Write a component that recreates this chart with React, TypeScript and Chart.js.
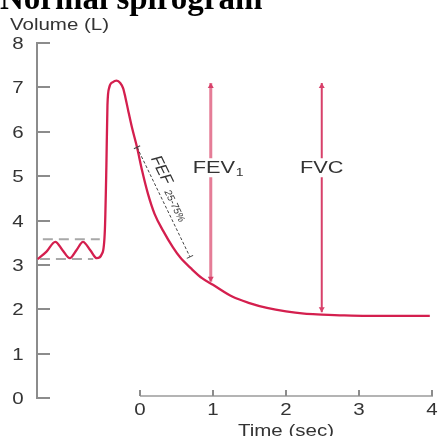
import React, { useEffect, useRef } from "react";
import { Chart, registerables } from "chart.js";

Chart.register(...registerables);

// ---- data ----
const curveTime = [
  -1.4, -1.28, -1.16, -1.06, -0.96, -0.87, -0.78, -0.68, -0.59, -0.52, -0.48, -0.46, -0.445, -0.42,
  -0.37, -0.32, -0.27, -0.23, -0.2, -0.16, -0.11, -0.04, 0.03, 0.11, 0.2, 0.32, 0.45, 0.55, 0.7,
  0.85, 1.0, 1.27, 1.5, 1.74, 2.0, 2.25, 2.49, 2.8, 3.11, 3.5, 3.97,
];
const curveVolume = [
  3.13, 3.3, 3.52, 3.33, 3.15, 3.33, 3.52, 3.33, 3.15, 3.25, 3.8, 5.2, 6.6, 7.0,
  7.12, 7.15, 7.1, 6.98, 6.78, 6.47, 6.1, 5.65, 5.12, 4.6, 4.15, 3.76, 3.4, 3.17, 2.92,
  2.7, 2.55, 2.28, 2.14, 2.03, 1.95, 1.9, 1.88, 1.86, 1.85, 1.85, 1.85,
];
const tidalUpperTime = [-1.33, -0.55];
const tidalUpperVolume = [3.58, 3.58];
const tidalLowerTime = [-1.37, -0.64];
const tidalLowerVolume = [3.13, 3.13];
const fefTime = [-0.04, 0.685];
const fefVolume = [5.65, 3.18];
const fev1Time = [0.97, 0.97];
const fev1Volume = [7.1, 2.62];
const fvcTime = [2.49, 2.49];
const fvcVolume = [7.1, 1.93];
const labelVolume = 5.2;
const yTickValues = [0, 1, 2, 3, 4, 5, 6, 7, 8];
const xTickValues = [0, 1, 2, 3, 4];
const titleText = "Normal spirogram";
const yTitle = "Volume (L)";
const xTitle = "Time (sec)";

const pts = (xs: number[], ys: number[]) => xs.map((x, i) => ({ x, y: ys[i] }));

const SX = 1.28;
const SANS = '"Liberation Sans", Arial, sans-serif';

function sText(ctx: CanvasRenderingContext2D, text: string, x: number, y: number, size: number, align: CanvasTextAlign, color = "#333", sx = SX) {
  ctx.save();
  ctx.translate(x, y);
  ctx.scale(sx, 1);
  ctx.font = `${size}px ${SANS}`;
  ctx.fillStyle = color;
  ctx.textAlign = align;
  ctx.textBaseline = "alphabetic";
  ctx.fillText(text, 0, 0);
  ctx.restore();
}

function rect(ctx: CanvasRenderingContext2D, x: number, y: number, w: number, h: number, color: string) {
  ctx.save();
  ctx.globalAlpha = 1;
  ctx.fillStyle = color;
  ctx.fillRect(x, y, w, h);
  ctx.restore();
}

const annotPlugin = {
  id: "annot",
  beforeDatasetsDraw(chart: any) {
    const ctx: CanvasRenderingContext2D = chart.ctx;
    const xs = chart.scales.x;
    const ys = chart.scales.y;
    const axX = Math.round(xs.left);
    const top = Math.round(ys.getPixelForValue(8));
    const bottom = Math.round(ys.getPixelForValue(0));
    // y axis
    rect(ctx, axX - 1, top - 1, 2, bottom - top + 2, "#8c8c8c");
    yTickValues.forEach((v) => {
      const py = Math.round(ys.getPixelForValue(v));
      rect(ctx, axX - 1, py - 1, 14, 2, "#8c8c8c");
    });
    // x axis
    const axY = bottom - 2;
    const x0 = Math.round(xs.getPixelForValue(0));
    const x4 = Math.round(xs.getPixelForValue(4));
    rect(ctx, x0, axY - 1, x4 - x0 + 1, 2, "#b4b4b4");
    xTickValues.forEach((v) => {
      const px = Math.round(xs.getPixelForValue(v));
      rect(ctx, px - 1, axY - 6, 2, 6, "#8c8c8c");
    });
  },
  afterDraw(chart: any) {
    const ctx: CanvasRenderingContext2D = chart.ctx;
    const xs = chart.scales.x;
    const ys = chart.scales.y;
    ctx.save();

    // title
    ctx.font = `bold 33px "Liberation Serif", "Times New Roman", serif`;
    ctx.fillStyle = "#000";
    ctx.textAlign = "left";
    ctx.textBaseline = "alphabetic";
    ctx.fillText(titleText, 0, 9);

    // y title
    sText(ctx, yTitle, 10, 30, 16, "left");

    yTickValues.forEach((v) => {
      const py = Math.round(ys.getPixelForValue(v));
      sText(ctx, String(v), 18, py + 6, 16, "center");
    });
    const axY = ys.getPixelForValue(0) - 2;
    xTickValues.forEach((v) => {
      const px = xs.getPixelForValue(v);
      sText(ctx, String(v), px, axY + 19, 16, "center");
    });
    sText(ctx, xTitle, xs.getPixelForValue(2), 436, 16, "center");

    // arrowheads
    const arrow = (t: number, v: number, dir: number, color: string) => {
      const px = xs.getPixelForValue(t);
      const py = ys.getPixelForValue(v);
      ctx.fillStyle = color;
      ctx.beginPath();
      ctx.moveTo(px, py);
      ctx.lineTo(px - 3, py - dir * 5);
      ctx.lineTo(px + 3, py - dir * 5);
      ctx.closePath();
      ctx.fill();
    };
    arrow(fev1Time[0], fev1Volume[0], -1, "#d8406a");
    arrow(fev1Time[1], fev1Volume[1], 1, "#d8406a");
    arrow(fvcTime[0], fvcVolume[0], -1, "#d8406a");
    arrow(fvcTime[1], fvcVolume[1], 1, "#d8406a");

    // labels with white background
    const ly = ys.getPixelForValue(labelVolume);
    const f1x = xs.getPixelForValue(fev1Time[0]);
    ctx.fillStyle = "#fff";
    ctx.fillRect(f1x - 20, ly - 9, 55, 19);
    sText(ctx, "FEV", f1x - 18, ly + 6, 17, "left");
    sText(ctx, "1", f1x + 25, ly + 9, 11, "left");
    const fvx = xs.getPixelForValue(fvcTime[0]);
    ctx.fillStyle = "#fff";
    ctx.fillRect(fvx - 22, ly - 9, 44, 19);
    sText(ctx, "FVC", fvx, ly + 6, 17, "center");

    // FEF end ticks and rotated label
    const ax = xs.getPixelForValue(fefTime[0]);
    const ay = ys.getPixelForValue(fefVolume[0]);
    const bx = xs.getPixelForValue(fefTime[1]);
    const by = ys.getPixelForValue(fefVolume[1]);
    const ang = Math.atan2(by - ay, bx - ax);
    const len = Math.hypot(bx - ax, by - ay);
    ctx.translate(ax, ay);
    ctx.rotate(ang);
    rect(ctx, -0.5, -3.5, 1, 7, "#444");
    rect(ctx, len - 0.5, -3.5, 1, 7, "#444");
    ctx.fillStyle = "#333";
    ctx.textBaseline = "middle";
    ctx.textAlign = "left";
    ctx.font = `italic 16px ${SANS}`;
    ctx.fillText("FEF", 16, -12);
    ctx.font = `italic 10px ${SANS}`;
    ctx.fillText("25-75%", 52, -8);
    ctx.restore();
  },
};

export default function App() {
  const ref = useRef<HTMLCanvasElement | null>(null);
  useEffect(() => {
    if (!ref.current) return;
    const chart = new Chart(ref.current, {
      type: "scatter",
      data: {
        datasets: [
          {
            data: pts(tidalUpperTime, tidalUpperVolume),
            showLine: true,
            borderColor: "#a8a8a8",
            borderWidth: 2,
            borderDash: [10, 6],
            pointRadius: 0,
          },
          {
            data: pts(tidalLowerTime, tidalLowerVolume),
            showLine: true,
            borderColor: "#a8a8a8",
            borderWidth: 2,
            borderDash: [10, 6],
            pointRadius: 0,
          },
          {
            data: pts(fefTime, fefVolume),
            showLine: true,
            borderColor: "#444",
            borderWidth: 1,
            borderDash: [3, 2],
            pointRadius: 0,
          },
          {
            data: pts(fev1Time, fev1Volume),
            showLine: true,
            borderColor: "#e57d97",
            borderWidth: 3,
            pointRadius: 0,
          },
          {
            data: pts(fvcTime, fvcVolume),
            showLine: true,
            borderColor: "#d8406a",
            borderWidth: 2,
            pointRadius: 0,
          },
          {
            data: pts(curveTime, curveVolume),
            showLine: true,
            borderColor: "#d41f4e",
            borderWidth: 2.3,
            pointRadius: 0,
            cubicInterpolationMode: "monotone",
          },
        ],
      },
      options: {
        animation: false,
        responsive: false,
        devicePixelRatio: 1,
        layout: { padding: { left: 37, right: 8, top: 43, bottom: 38 } },
        scales: {
          x: { type: "linear", min: -1.41, max: 4, display: false },
          y: { type: "linear", min: 0, max: 8, display: false },
        },
        plugins: { legend: { display: false }, tooltip: { enabled: false } },
        elements: { point: { radius: 0 } },
      },
      plugins: [annotPlugin],
    });
    return () => chart.destroy();
  }, []);
  return (
    <div style={{ position: "fixed", left: 0, top: 0, width: 440, height: 436, background: "#fff" }}>
      <canvas ref={ref} width={440} height={436} style={{ display: "block", width: 440, height: 436 }} />
    </div>
  );
}
